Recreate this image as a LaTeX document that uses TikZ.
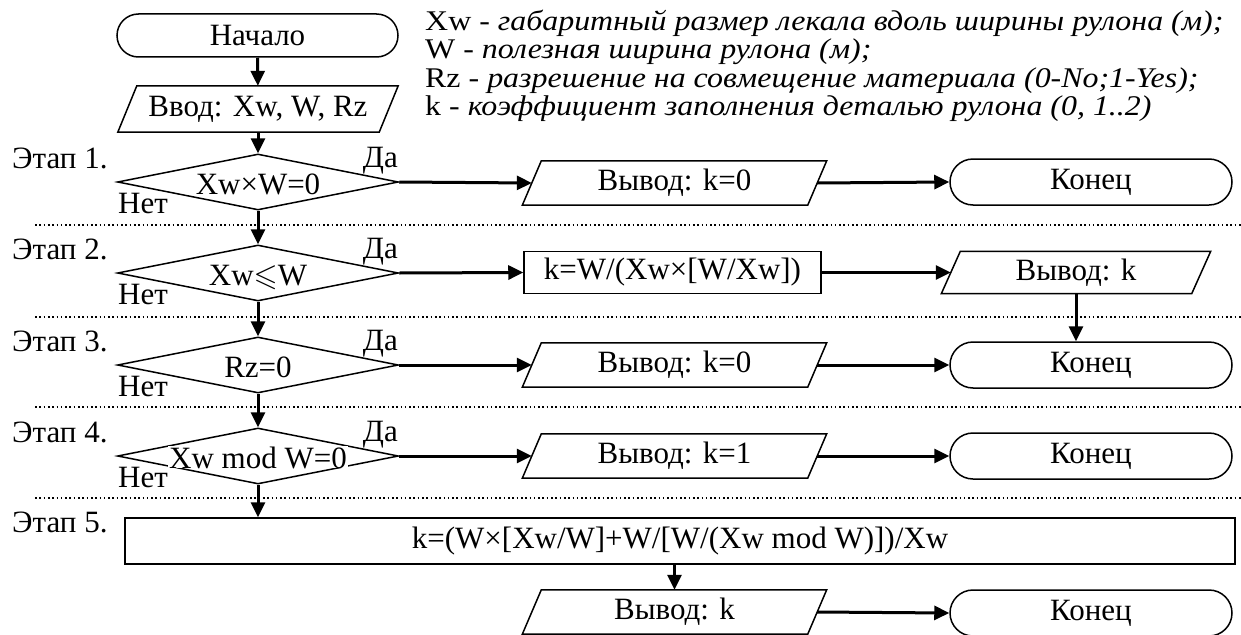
\documentclass[tikz,border=0pt]{standalone}
\usepackage{amssymb}
\usepackage{fontspec}
\setmainfont{Liberation Serif}
\newfontfamily\legendfont[FakeStretch=1.12]{Liberation Serif}
\usetikzlibrary{arrows.meta,shapes.geometric,shapes.misc}

% parallelogram outline around a (rectangular, undrawn) node;
% the node's west/east anchors lie on the slanted sides
\newcommand\ioshape[2]{%
  \draw[shapeline] ([xshift=#2]#1.north west) -- ([xshift=#2]#1.north east)
    -- ([xshift=-#2]#1.south east) -- ([xshift=-#2]#1.south west) -- cycle;}

\begin{document}
\begin{tikzpicture}[x=1pt,y=-1pt,
  every node/.style={inner sep=0pt, font=\fontsize{31}{34}\selectfont},
  shapeline/.style={line width=1.5pt, line join=miter},
  term/.style={rounded rectangle, draw, shapeline, minimum width=282pt, minimum height=46pt},
  iobox/.style={minimum height=44pt},
  procbox/.style={rectangle, draw, shapeline, minimum height=42pt},
  decision/.style={diamond, draw, shapeline, minimum width=281pt, minimum height=56pt},
  flow/.style={line width=3pt, -{Triangle[length=15pt,width=14pt]}},
  sep/.style={line width=1.6pt, dash pattern=on 1.6pt off 2.7pt},
  stage/.style={anchor=base west},
  yes/.style={anchor=base east},
  no/.style={anchor=base west},
  legend/.style={anchor=base west, font=\legendfont\fontsize{28.5}{28}\selectfont}
]
\useasboundingbox (0,0) rectangle (1241,634);

% legend
\node[legend] (lg1) at (425,31) {Xw - \textit{габаритный размер лекала вдоль ширины рулона (м);}};
\node[legend] (lg2) at (425,59) {W - \textit{полезная ширина рулона (м);}};
\node[legend] (lg3) at (425,87) {Rz - \textit{разрешение на совмещение материала (0-No;1-Yes);}};
\node[legend] (lg4) at (425,115) {k - \textit{коэффициент заполнения деталью рулона (0, 1..2)}};

% stage separators
\draw[sep] (35,225) -- (1241,225);
\draw[sep] (35,317) -- (1241,317);
\draw[sep] (35,407) -- (1241,407);
\draw[sep] (35,498) -- (1241,498);

% start and input
\node[term, minimum width=281pt, minimum height=43pt] (start) at (257.5,35.5) {Начало};
\node[iobox, minimum width=261pt, minimum height=46pt] (input) at (258,109) {Ввод: Xw, W, Rz};
\ioshape{input}{9.5pt}

% decisions
\node[decision] (d1) at (258,182) {};
\node[decision] (d2) at (258,273) {};
\node[decision] (d3) at (258,365) {};
\node[decision] (d4) at (258,456) {};
\node[anchor=base] (t1) at (258,194) {Xw×W=0};
\node[anchor=base] (t2) at (258,285) {Xw$\leqslant$W};
\node[anchor=base] (t3) at (258,377) {Rz=0};
\node[anchor=base, fill=white, inner xsep=1pt] (t4) at (258,468) {Xw mod W=0};

% stage labels
\node[stage] (s1) at (12,168) {Этап 1.};
\node[stage] (s2) at (12,259) {Этап 2.};
\node[stage] (s3) at (12,351) {Этап 3.};
\node[stage] (s4) at (12,442) {Этап 4.};
\node[stage] (s5) at (12,532) {Этап 5.};

% yes / no labels
\node[yes] (y1) at (398,167) {Да};
\node[yes] (y2) at (398,258) {Да};
\node[yes] (y3) at (398,350) {Да};
\node[yes] (y4) at (398,441) {Да};
\node[no] (n1) at (118,213) {Нет};
\node[no] (n2) at (118,304) {Нет};
\node[no] (n3) at (118,396) {Нет};
\node[no] (n4) at (118,487) {Нет};

% row 1
\node[iobox] (o1) at (674.5,183) [minimum width=285pt] {Вывод: k=0};
\ioshape{o1}{9.5pt}
\node[term] (e1) at (1091,182) {Конец};

% row 2
\node[procbox, minimum width=297pt] (p2) at (672.5,272.5) {k=W/(Xw×[W/Xw])};
\node[iobox, minimum width=250pt, minimum height=42pt] (o2) at (1076,272.5) {Вывод: k};
\ioshape{o2}{9.5pt}

% row 3
\node[iobox] (o3) at (674.5,365) [minimum width=285pt] {Вывод: k=0};
\ioshape{o3}{9.5pt}
\node[term] (e3) at (1091,365) {Конец};

% row 4
\node[iobox] (o4) at (674.5,456) [minimum width=285pt] {Вывод: k=1};
\ioshape{o4}{9.5pt}
\node[term] (e4) at (1091,456) {Конец};

% row 5
\node[procbox, minimum width=1110pt, minimum height=46pt] (p5) at (680,541) {k=(W×[Xw/W]+W/[W/(Xw mod W)])/Xw};
\node[iobox] (o5) at (674.5,612) [minimum width=285pt] {Вывод: k};
\ioshape{o5}{9.5pt}
\node[term] (e5) at (1091,613) {Конец};

% connectors
\draw[flow] (start) -- (input);
\draw[flow] (input) -- (d1);
\draw[flow] (d1) -- (d2);
\draw[flow] (d2) -- (d3);
\draw[flow] (d3) -- (d4);
\draw[flow] (d4.south) -- (d4.south |- p5.north);
\draw[flow] (d1.east) -- (o1.west);
\draw[flow] (o1.east) -- (e1.west);
\draw[flow] (d2.east) -- (p2.west);
\draw[flow] (p2.east) -- (o2.west);
\draw[flow] (o2.south) -- (o2.south |- e3.north);
\draw[flow] (d3.east) -- (o3.west);
\draw[flow] (o3.east) -- (e3.west);
\draw[flow] (d4.east) -- (o4.west);
\draw[flow] (o4.east) -- (e4.west);
\draw[flow] (o5.north |- p5.south) -- (o5.north);
\draw[flow] (o5.east) -- (e5.west);
\end{tikzpicture}
\end{document}
